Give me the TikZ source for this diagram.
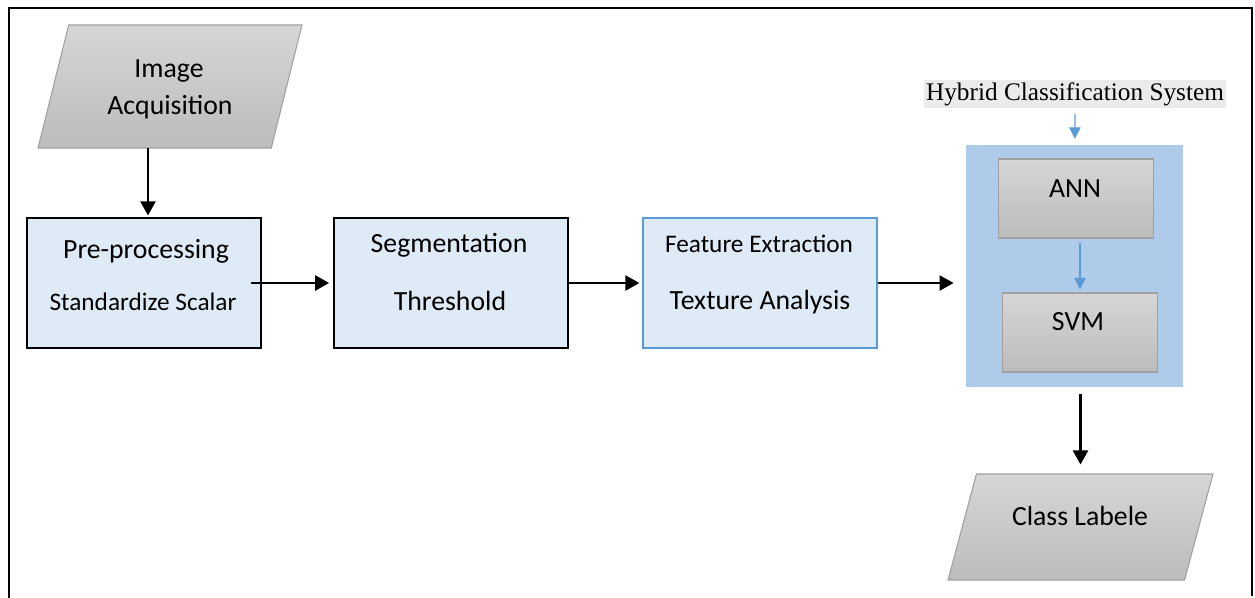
\documentclass[tikz,border=0pt]{standalone}
\usepackage{fontspec}
\setmainfont{Carlito}
\newfontfamily\timesfont{Liberation Serif}
\usepackage{tikz}
\usetikzlibrary{arrows.meta,shapes.geometric,positioning}

\definecolor{boxblue}{RGB}{222,234,246}
\definecolor{accent}{RGB}{91,155,213}
\definecolor{hybblue}{RGB}{174,204,234}
\definecolor{graytop}{RGB}{214,214,214}
\definecolor{graybot}{RGB}{188,188,188}
\definecolor{grayline}{RGB}{160,160,160}
\definecolor{titlegray}{RGB}{235,235,235}

\begin{document}
\begin{tikzpicture}[x=0.02cm,y=-0.02cm,->,>={Triangle[length=8pt,width=8.5pt]},
				shorten >=1pt,line width=1.5pt]
				\tikzstyle{procbox}=[draw=black,line width=0.9pt,fill=boxblue,minimum width=4.68cm,minimum height=2.6cm,inner sep=0pt]
				\tikzstyle{iobox}=[shape=trapezium,trapezium left angle=76,trapezium right angle=104,trapezium stretches body,draw=grayline,line width=0.6pt,top color=graytop,bottom color=graybot,minimum width=5.28cm,inner sep=0pt]
				\tikzstyle{graybox}=[draw=grayline,line width=0.8pt,top color=graytop,bottom color=graybot,minimum width=3.1cm,minimum height=1.58cm,inner sep=0pt]
				\tikzstyle{bigtext}=[font=\fontsize{15.8}{19.8}\selectfont,inner sep=0pt,anchor=base]
				\tikzstyle{smalltext}=[font=\fontsize{14.4}{17}\selectfont,inner sep=0pt,anchor=base]
				\tikzstyle{bluearrow}=[draw=accent,line width=0.7pt,-{Triangle[length=6.5pt,width=6.5pt]}]

				\useasboundingbox (0,0) rectangle (1255,598);
				\draw[-,line width=0.9pt] (9,598) -- (9,8) -- (1252,8) -- (1252,598);

				% input and three processing steps
				\node[iobox]		(acq)		at (170,86.5)	{\rule{0pt}{2.46cm}};
				\node[bigtext]		(acq-a)	at (169,78)		{Image};
				\node[bigtext]		(acq-b)	at (170,114)	{Acquisition};
				\coordinate			(acq-out)	at (148,148);

				\node[procbox]		(pre)		at (144,283)	{};
				\node[bigtext]		(pre-a)	at (146,258)	{Pre-processing};
				\node[smalltext]	(pre-b)	at (143,310)	{Standardize Scalar};

				\node[procbox]		(seg)		at (451,283)	{};
				\node[bigtext]		(seg-a)	at (449,253)	{Segmentation};
				\node[bigtext]		(seg-b)	at (450,310)	{Threshold};

				\node[procbox,draw=accent,line width=0.7pt]	(feat)	at (760,283)	{};
				\node[smalltext]	(feat-a)	at (759,253)	{Feature Extraction};
				\node[bigtext]		(feat-b)	at (760,309)	{Texture Analysis};

				% hybrid classifier
				\node[fill=hybblue,minimum width=4.34cm,minimum height=4.84cm,inner sep=0pt]	(hyb)	at (1074.5,266)	{};
				\node[fill=titlegray,font=\timesfont\fontsize{14.4}{17}\selectfont,inner xsep=1pt,inner ysep=1.2pt]	(hyb-t)	at (1075,94)	{Hybrid Classification System};
				\node[graybox]		(ann)		at (1076,198.5)	{};
				\node[bigtext]		(ann-t)	at (1075,197)	{ANN};
				\node[graybox]		(svm)		at (1080,332.5)	{};
				\node[bigtext]		(svm-t)	at (1078,330)	{SVM};

				\node[iobox,trapezium left angle=75,trapezium right angle=105,minimum width=5.3cm]	(cls)	at (1080.5,527)	{\rule{0pt}{2.12cm}};
				\node[bigtext]		(cls-t)	at (1080,525)	{Class Labele};

				\path (acq-out)	edge	(acq-out |- pre.north)
					(pre.east)	edge	[shorten <=-0.22cm,shorten >=2.3pt]	(seg.west)
					(seg.east)	edge	[shorten >=1.7pt]	(feat.west)
					(feat.east)	edge	[shorten >=6.3pt]	(feat.east -| hyb.west)
					(hyb.south -| cls.north)	edge	[shorten <=3.4pt,shorten >=5.1pt]	(cls.north);
				\path (hyb-t)	edge	[bluearrow,shorten <=2.8pt,shorten >=2.8pt]	(hyb)
					(ann.south -| svm.north)	edge	[bluearrow,shorten <=2.3pt,shorten >=1.7pt]	(svm.north);
\end{tikzpicture}
\end{document}
